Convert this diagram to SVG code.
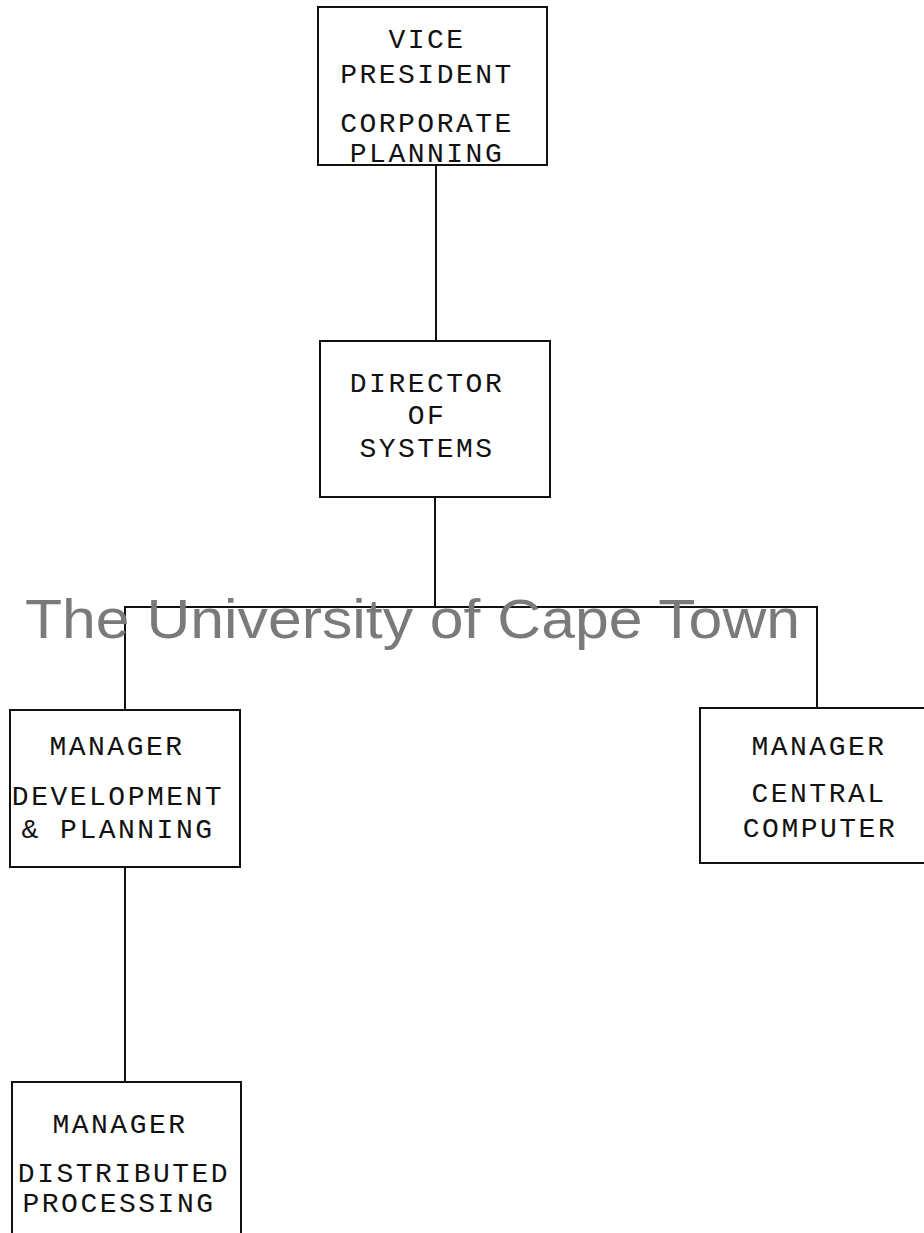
<svg xmlns="http://www.w3.org/2000/svg" width="924" height="1233" viewBox="0 0 924 1233">
<style>
.box{fill:none;stroke:#111;stroke-width:2}
.t{font-family:"Liberation Mono","Courier New",monospace;font-size:28px;letter-spacing:2.5px;fill:#111;text-anchor:middle}
.c{stroke:#111;stroke-width:2;fill:none}
.wm{font-family:"Liberation Sans",Arial,sans-serif;font-size:56px;fill:#7a7a7a}
</style>
<rect width="924" height="1233" fill="#fff"/>
<g id="connectors">
<line class="c" x1="436" y1="165" x2="436" y2="341"/>
<line class="c" x1="435" y1="497" x2="435" y2="607"/>
<polyline class="c" points="125,710 125,607 817,607 817,708"/>
<line class="c" x1="125" y1="867" x2="125" y2="1082"/>
</g>
<g id="vp">
<rect class="box" x="318" y="7" width="229" height="158"/>
<text class="t" x="427" y="48">VICE</text>
<text class="t" x="427" y="83">PRESIDENT</text>
<text class="t" x="427" y="132">CORPORATE</text>
<text class="t" x="427" y="162">PLANNING</text>
</g>
<g id="director">
<rect class="box" x="320" y="341" width="230" height="156"/>
<text class="t" x="427" y="392">DIRECTOR</text>
<text class="t" x="427" y="424">OF</text>
<text class="t" x="427" y="457">SYSTEMS</text>
</g>
<g id="devplan">
<rect class="box" x="10" y="710" width="230" height="157"/>
<text class="t" x="117" y="755">MANAGER</text>
<text class="t" x="118" y="805">DEVELOPMENT</text>
<text class="t" x="118" y="838">&amp; PLANNING</text>
</g>
<g id="central">
<rect class="box" x="700" y="708" width="230" height="155"/>
<text class="t" x="819" y="755">MANAGER</text>
<text class="t" x="819" y="802">CENTRAL</text>
<text class="t" x="820" y="837">COMPUTER</text>
</g>
<g id="distributed">
<rect class="box" x="12" y="1082" width="229" height="160"/>
<text class="t" x="120" y="1133">MANAGER</text>
<text class="t" x="124" y="1182">DISTRIBUTED</text>
<text class="t" x="119" y="1212">PROCESSING</text>
</g>
<text class="wm" x="25" y="638" textLength="775" lengthAdjust="spacingAndGlyphs">The University of Cape Town</text>
</svg>
